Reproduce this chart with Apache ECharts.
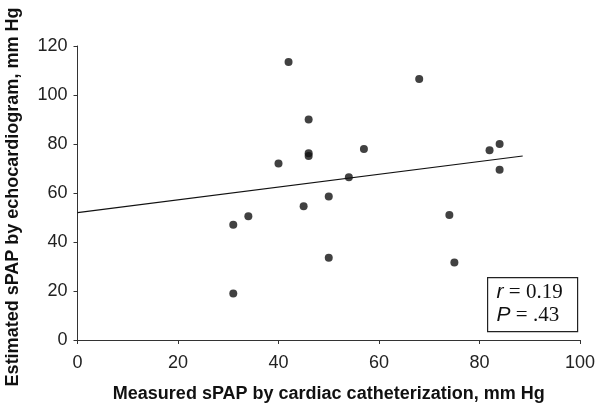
<!DOCTYPE html>
<html><head><meta charset="utf-8">
<script src="https://cdn.jsdelivr.net/npm/echarts@6/dist/echarts.min.js"></script>
<style>html,body{margin:0;padding:0;background:#fff}#c{width:600px;height:408px}</style>
</head><body><div id="c"></div>
<script>
var xValues = [31, 31, 34, 42, 40, 46, 46, 46, 57, 54, 50, 45, 68, 82, 84, 84, 74, 50, 75];
var yValues = [47, 19, 50.5, 113.5, 72, 90, 76.2, 75.1, 78, 66.4, 58.6, 54.6, 106.5, 77.4, 80, 69.5, 51, 33.6, 31.6];
var fitX = [0, 88.6];
var fitY = [52, 75.1];
var xTicks = [0, 20, 40, 60, 80, 100];
var yTicks = [0, 20, 40, 60, 80, 100, 120];
var statR = '0.19';
var statP = '.43';

var points = xValues.map(function (x, i) { return [x, yValues[i]]; });
var fit = fitX.map(function (x, i) { return [x, fitY[i]]; });

var chart = echarts.init(document.getElementById('c'));
var axisCol = '#333';
var font = '"Liberation Sans", Arial, sans-serif';
var serif = '"Liberation Serif", "Times New Roman", serif';
chart.setOption({
  animation: false,
  backgroundColor: '#fff',
  grid: { left: 77.5, right: 20, top: 46, bottom: 68, containLabel: false, outerBoundsMode: 'none' },
  xAxis: {
    type: 'value', min: xTicks[0], max: xTicks[xTicks.length - 1], interval: xTicks[1] - xTicks[0],
    name: 'Measured sPAP by cardiac catheterization, mm Hg',
    nameLocation: 'middle', nameGap: 45,
    nameTextStyle: { fontFamily: font, fontSize: 18, fontWeight: 'bold', color: '#111' },
    axisLine: { lineStyle: { color: axisCol, width: 1 } },
    axisTick: { show: true, inside: false, length: 4, lineStyle: { color: axisCol } },
    axisLabel: { fontFamily: font, fontSize: 18, color: '#222', margin: 14 },
    splitLine: { show: false }
  },
  yAxis: {
    type: 'value', min: yTicks[0], max: yTicks[yTicks.length - 1], interval: yTicks[1] - yTicks[0],
    name: 'Estimated sPAP by echocardiogram, mm Hg',
    nameLocation: 'middle', nameGap: 55,
    nameTextStyle: { fontFamily: font, fontSize: 18, fontWeight: 'bold', color: '#111', padding: [0, 8, 0, 0] },
    axisLine: { show: true, lineStyle: { color: axisCol, width: 1 } },
    axisTick: { show: true, inside: false, length: 4, lineStyle: { color: axisCol } },
    axisLabel: { fontFamily: font, fontSize: 18, color: '#222', margin: 10 },
    splitLine: { show: false }
  },
  series: [
    {
      type: 'scatter', data: points, symbol: 'circle', symbolSize: 8,
      itemStyle: { color: '#111' }
    },
    {
      type: 'line', data: fit, showSymbol: false, symbol: 'none',
      lineStyle: { color: '#111', width: 1.2 }
    }
  ],
  graphic: [
    {
      type: 'group', left: 487, top: 277,
      children: [
        { type: 'rect', shape: { x: 0, y: 0, width: 90, height: 54 },
          style: { fill: '#fff', stroke: '#222', lineWidth: 1.2 } },
        { type: 'text', x: 9, y: 15, style: {
            text: '{i|r} = ' + statR, fontFamily: serif,
            fontSize: 21, fill: '#111', verticalAlign: 'middle',
            rich: { i: { fontStyle: 'italic', fontFamily: font, fontSize: 21 } } } },
        { type: 'text', x: 9, y: 38, style: {
            text: '{i|P} = ' + statP, fontFamily: serif,
            fontSize: 21, fill: '#111', verticalAlign: 'middle',
            rich: { i: { fontStyle: 'italic', fontFamily: font, fontSize: 21 } } } }
      ]
    }
  ]
});
</script>
</body></html>
